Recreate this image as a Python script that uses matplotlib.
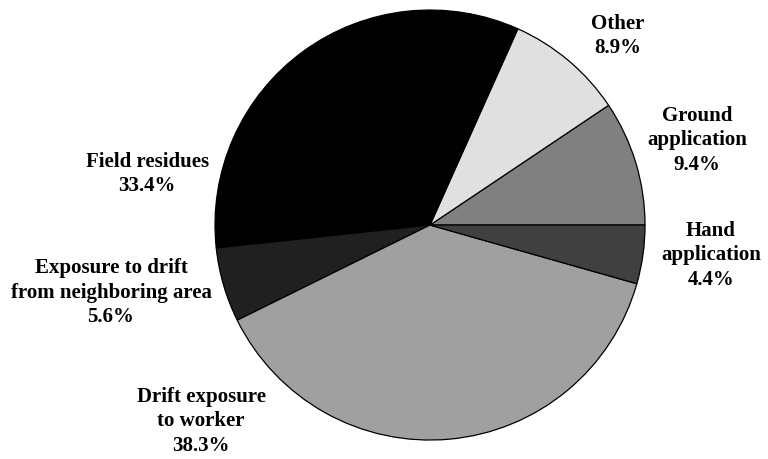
import matplotlib
matplotlib.use("Agg")
import matplotlib.pyplot as plt

categories = ["Ground\napplication", "Other", "Field residues",
              "Exposure to drift\nfrom neighboring area",
              "Drift exposure\nto worker", "Hand\napplication"]
shares = [9.4, 8.9, 33.4, 5.6, 38.3, 4.4]
colors = ["#808080", "#e0e0e0", "#000000", "#202020", "#a0a0a0", "#404040"]
# label anchor points (pie radius = 1)
label_xy = [(1.242, 0.395), (0.874, 0.879), (-1.316, 0.237),
            (-1.484, -0.316), (-1.065, -0.912), (1.307, -0.140)]

fig = plt.figure(figsize=(7.68, 4.59), dpi=100)
ax = fig.add_axes([0, 0, 1, 1])

ax.pie(shares, colors=colors, startangle=0, counterclock=True, radius=1.0,
       wedgeprops=dict(edgecolor="black", linewidth=0.9))

ax.set_xlim(-2.0, 1.572)
ax.set_ylim(-1.088, 1.0465)
ax.set_aspect("equal")
ax.axis("off")

for name, val, (x, y) in zip(categories, shares, label_xy):
    ax.text(x, y, f"{name}\n{val:.1f}%", ha="center", va="center",
            fontsize=15, fontweight="bold", family="Liberation Serif",
            linespacing=1.3)

fig.savefig("out.png", dpi=100)
